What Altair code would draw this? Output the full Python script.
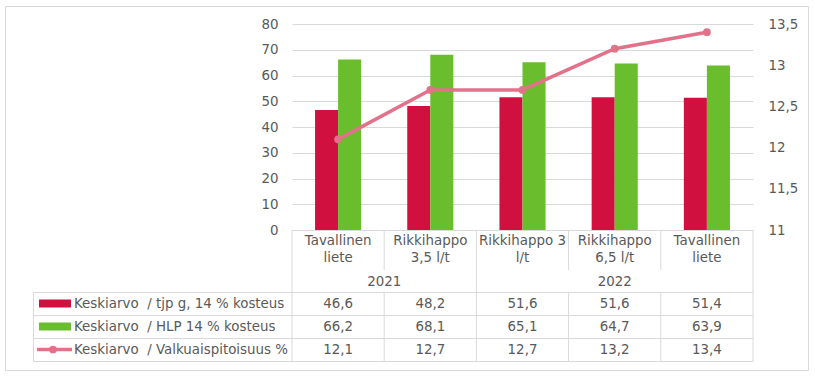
import altair as alt
import pandas as pd

# ---------------- data ----------------
keys = ["c0", "c1", "c2", "c3", "c4"]
cat_line1 = ["Tavallinen", "Rikkihappo", "Rikkihappo 3", "Rikkihappo", "Tavallinen"]
cat_line2 = ["liete", "3,5 l/t", "l/t", "6,5 l/t", "liete"]
years = ["2021", "2021", "2022", "2022", "2022"]
series = [
    "Keskiarvo\u00a0 / tjp g, 14 % kosteus",
    "Keskiarvo\u00a0 / HLP 14 % kosteus",
    "Keskiarvo\u00a0 / Valkuaispitoisuus %",
]
tjp = [46.6, 48.2, 51.6, 51.6, 51.4]
hlp = [66.2, 68.1, 65.1, 64.7, 63.9]
valk = [12.1, 12.7, 12.7, 13.2, 13.4]
left_ticks = [0, 10, 20, 30, 40, 50, 60, 70, 80]
right_ticks = [11, 11.5, 12, 12.5, 13, 13.5]

# ---------------- style ----------------
FONT = "DejaVu Sans"
TXT = "#595959"
GRID = "#D9D9D9"
RED = "#D01140"
GREEN = "#6ABD2C"
PINK = "#E2718A"
FS = 13.4

W, H = 461, 206
PL, PT = 292, 24  # plot origin in page pixels


def px(x):
    return x - PL


def py(y):
    return y - PT


bars_df = pd.DataFrame(
    [{"key": k, "series": series[0], "value": v} for k, v in zip(keys, tjp)]
    + [{"key": k, "series": series[1], "value": v} for k, v in zip(keys, hlp)]
)
line_df = pd.DataFrame({"key": keys, "value": valk})
cats_df = pd.DataFrame({"key": keys, "l1": cat_line1, "l2": cat_line2})

xscale = alt.Scale(domain=keys, paddingInner=0, paddingOuter=0)


def X(bp=0.5):
    return alt.X("key:N", scale=xscale, axis=None, bandPosition=bp)


layers = []

# outer border
one = pd.DataFrame({"a": [0]})
layers.append(
    alt.Chart(one).mark_rect(fill="transparent", stroke=GRID, strokeWidth=1).encode(
        x=alt.value(px(5.5)), x2=alt.value(px(808.5)),
        y=alt.value(py(6.5)), y2=alt.value(py(370.5)),
    )
)

# bars
bars = alt.Chart(bars_df).mark_bar().encode(
    x=X(),
    xOffset=alt.XOffset("series:N", sort=series[:2],
                        scale=alt.Scale(domain=series[:2], paddingInner=0, paddingOuter=1)),
    y=alt.Y("value:Q", scale=alt.Scale(domain=[0, 80]),
            axis=alt.Axis(orient="left", values=left_ticks, domain=False, ticks=False,
                          labelPadding=14, labelColor=TXT, labelFont=FONT, labelFontSize=FS,
                          gridColor=GRID, title=None)),
    color=alt.Color("series:N", scale=alt.Scale(domain=series[:2], range=[RED, GREEN]), legend=None),
)
layers.append(bars)

# line
line = alt.Chart(line_df).mark_line(
    color=PINK, strokeWidth=3.5,
    point=alt.OverlayMarkDef(filled=True, size=60, color=PINK),
).encode(
    x=X(),
    y=alt.Y("value:Q", scale=alt.Scale(domain=[11, 13.5], zero=False),
            axis=alt.Axis(orient="right", values=right_ticks, domain=False, ticks=False, grid=False,
                          labelPadding=15, labelColor=TXT, labelFont=FONT, labelFontSize=FS,
                          labelExpr="replace(toString(datum.value), '.', ',')", title=None)),
)
layers.append(line)

# ---------------- table ----------------
txt = dict(font=FONT, fontSize=FS, color=TXT, baseline="middle")

# category labels
layers.append(alt.Chart(cats_df).mark_text(align="center", **txt).encode(
    x=X(), y=alt.value(py(241)), text="l1:N"))
layers.append(alt.Chart(cats_df).mark_text(align="center", **txt).encode(
    x=X(), y=alt.value(py(258)), text="l2:N"))

# year labels, centred under their categories
groups = []
for i, yv in enumerate(years):
    if groups and groups[-1][0] == yv:
        groups[-1][1].append(i)
    else:
        groups.append((yv, [i]))
for yv, idx in groups:
    n = len(idx)
    if n % 2 == 0:
        anchor, bp = idx[n // 2], 0.0
    else:
        anchor, bp = idx[n // 2], 0.5
    layers.append(alt.Chart(pd.DataFrame({"key": [keys[anchor]], "t": [yv]})).mark_text(
        align="center", **txt).encode(x=X(bp), y=alt.value(py(282)), text="t:N"))

# value rows
row_centers = [303.5, 326.5, 349.5]
for r, vals in enumerate([tjp, hlp, valk]):
    df = pd.DataFrame({"key": keys, "t": [f"{v:.1f}".replace(".", ",") for v in vals]})
    layers.append(alt.Chart(df).mark_text(align="center", **txt).encode(
        x=X(), y=alt.value(py(row_centers[r])), text="t:N"))
    layers.append(alt.Chart(pd.DataFrame({"s": [series[r]]})).mark_text(align="left", **txt).encode(
        x=alt.value(px(74)), y=alt.value(py(row_centers[r])), text="s:N"))

# legend keys in table
for r in range(2):
    layers.append(alt.Chart(pd.DataFrame({"series": [series[r]]})).mark_rect().encode(
        x=alt.value(px(39)), x2=alt.value(px(71)),
        y=alt.value(py(row_centers[r] - 4)), y2=alt.value(py(row_centers[r] + 4)),
        color=alt.Color("series:N", legend=None)))
layers.append(alt.Chart(one).mark_rule(color=PINK, strokeWidth=3.5).encode(
    x=alt.value(px(37)), x2=alt.value(px(72)), y=alt.value(py(row_centers[2]))))
layers.append(alt.Chart(one).mark_point(filled=True, size=60, color=PINK, opacity=1).encode(
    x=alt.value(px(53)), y=alt.value(py(row_centers[2]))))

# table grid lines
for yy in [292.5, 315.5, 338.5, 361.5]:
    layers.append(alt.Chart(one).mark_rule(color=GRID, strokeWidth=1).encode(
        x=alt.value(px(33.5)), x2=alt.value(W), y=alt.value(py(yy))))
layers.append(alt.Chart(one).mark_rule(color=GRID, strokeWidth=1).encode(
    x=alt.value(px(33.5)), y=alt.value(py(292.5)), y2=alt.value(py(361.5))))

for i, k in enumerate(keys):
    full = (i == 0) or (years[i] != years[i - 1])
    kdf = pd.DataFrame({"key": [k]})
    if full:
        layers.append(alt.Chart(kdf).mark_rule(color=GRID, strokeWidth=1).encode(
            x=X(0.0), y=alt.value(py(230)), y2=alt.value(py(361.5))))
    else:
        layers.append(alt.Chart(kdf).mark_rule(color=GRID, strokeWidth=1).encode(
            x=X(0.0), y=alt.value(py(230)), y2=alt.value(py(270))))
        layers.append(alt.Chart(kdf).mark_rule(color=GRID, strokeWidth=1).encode(
            x=X(0.0), y=alt.value(py(292.5)), y2=alt.value(py(361.5))))
layers.append(alt.Chart(pd.DataFrame({"key": [keys[-1]]})).mark_rule(color=GRID, strokeWidth=1).encode(
    x=X(1.0), y=alt.value(py(230)), y2=alt.value(py(361.5))))

chart = alt.layer(*layers).resolve_scale(y="independent").properties(
    width=W, height=H,
    autosize=alt.AutoSizeParams(type="none"),
    padding={"left": PL, "top": PT, "right": 815 - PL - W, "bottom": 376 - PT - H},
    background="white",
).configure_view(stroke=None)

chart.save("out.html", embed_options={"renderer": "svg", "actions": False})
